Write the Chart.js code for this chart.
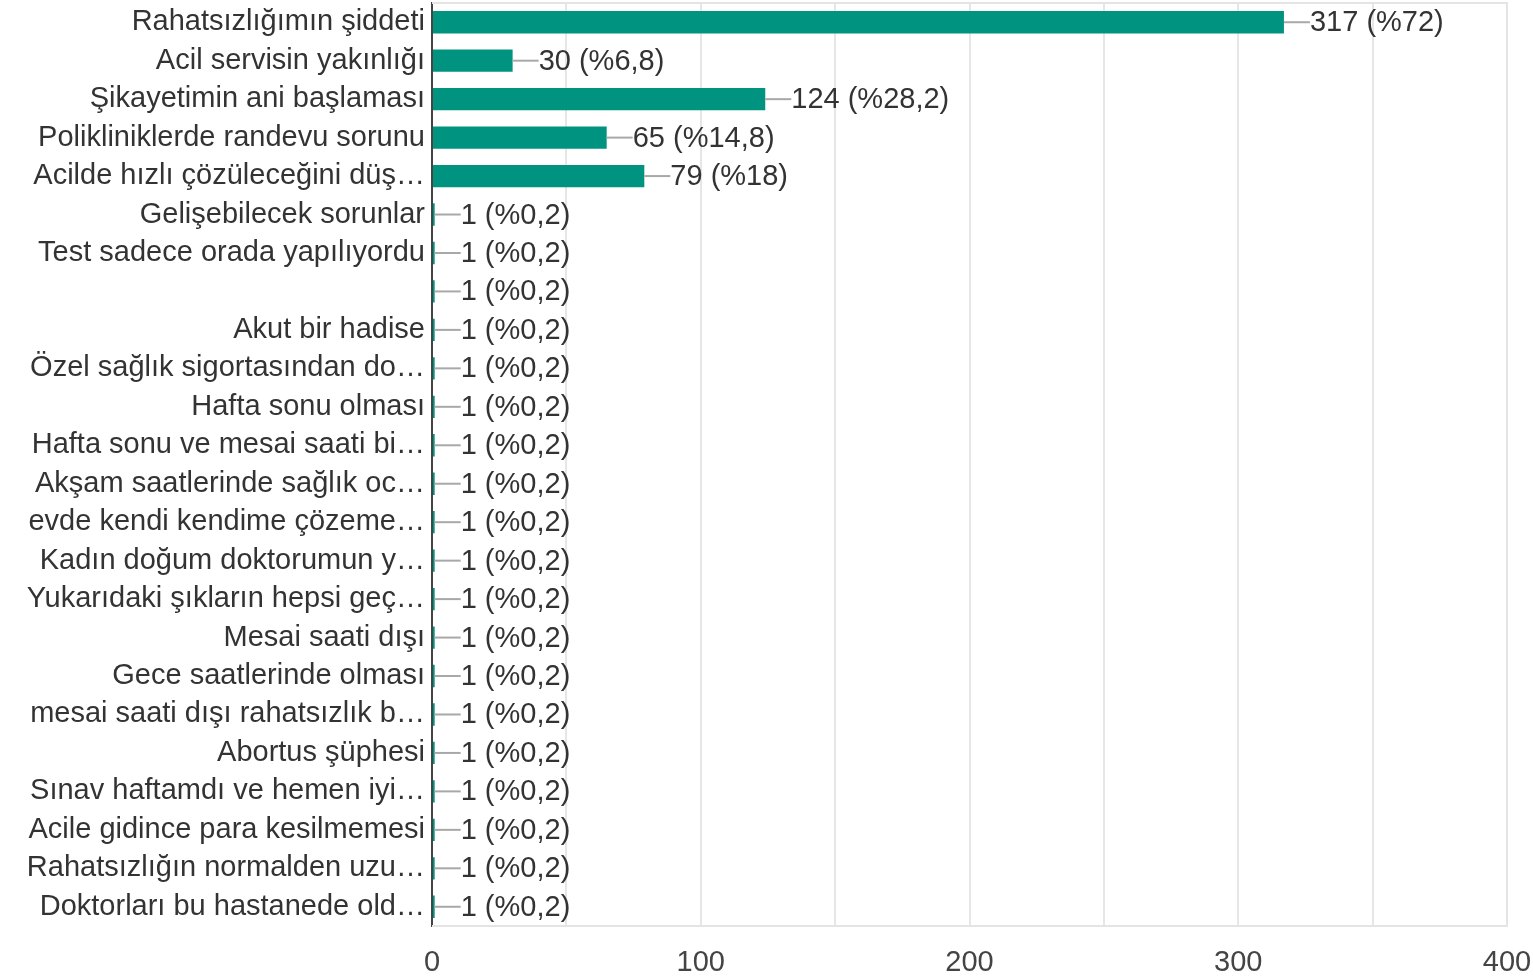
<!DOCTYPE html>
<html>
<head>
<meta charset="utf-8">
<script src="https://cdn.jsdelivr.net/npm/chart.js@4/dist/chart.umd.min.js"></script>
<style>
  html, body { margin: 0; padding: 0; background: #fff; }
  #wrap { width: 1533px; height: 978px; }
</style>
</head>
<body>
<div id="wrap"><canvas id="c" width="1533" height="978"></canvas></div>
<script>
// Survey answers: reason for choosing the emergency department
const categories = [
  "Rahatsızlığımın şiddeti",
  "Acil servisin yakınlığı",
  "Şikayetimin ani başlaması",
  "Polikliniklerde randevu sorunu",
  "Acilde hızlı çözüleceğini düş…",
  "Gelişebilecek sorunlar",
  "Test sadece orada yapılıyordu",
  "",
  "Akut bir hadise",
  "Özel sağlık sigortasından do…",
  "Hafta sonu olması",
  "Hafta sonu ve mesai saati bi…",
  "Akşam saatlerinde sağlık oc…",
  "evde kendi kendime çözeme…",
  "Kadın doğum doktorumun y…",
  "Yukarıdaki şıkların hepsi geç…",
  "Mesai saati dışı",
  "Gece saatlerinde olması",
  "mesai saati dışı rahatsızlık b…",
  "Abortus şüphesi",
  "Sınav haftamdı ve hemen iyi…",
  "Acile gidince para kesilmemesi",
  "Rahatsızlığın normalden uzu…",
  "Doktorları bu hastanede old…"
];
const counts = [317, 30, 124, 65, 79, 1, 1, 1, 1, 1, 1, 1, 1, 1, 1, 1, 1, 1, 1, 1, 1, 1, 1, 1];
const percents = ["72", "6,8", "28,2", "14,8", "18", "0,2", "0,2", "0,2", "0,2", "0,2", "0,2", "0,2",
  "0,2", "0,2", "0,2", "0,2", "0,2", "0,2", "0,2", "0,2", "0,2", "0,2", "0,2", "0,2"];
const xTickLabels = [0, 100, 200, 300, 400];

const FONT = "'Liberation Sans', Arial, Helvetica, sans-serif";
const FONT_SIZE = 29;

// Light frame around the plotting area
const frame = {
  id: 'frame',
  beforeDatasetsDraw(chart) {
    const { ctx, chartArea: a } = chart;
    ctx.save();
    ctx.strokeStyle = '#e4e4e4';
    ctx.lineWidth = 2;
    ctx.beginPath();
    ctx.moveTo(a.left, a.top); ctx.lineTo(a.right, a.top);
    ctx.lineTo(a.right, a.bottom); ctx.lineTo(a.left, a.bottom);
    ctx.stroke();
    ctx.restore();
  }
};

// Leader line + "count (%share)" after each bar
const valueLabels = {
  id: 'valueLabels',
  afterDatasetsDraw(chart) {
    const { ctx } = chart;
    const meta = chart.getDatasetMeta(0);
    ctx.save();
    ctx.font = FONT_SIZE + 'px ' + FONT;
    ctx.textBaseline = 'middle';
    ctx.textAlign = 'left';
    meta.data.forEach((bar, i) => {
      const x = bar.x, y = bar.y;
      ctx.strokeStyle = '#a8a8a8';
      ctx.lineWidth = 2;
      ctx.beginPath();
      ctx.moveTo(x, y);
      ctx.lineTo(x + 26, y);
      ctx.stroke();
      ctx.fillStyle = '#333333';
      ctx.fillText(counts[i] + ' (%' + percents[i] + ')', x + 26, y + 1);
    });
    ctx.restore();
  }
};

new Chart(document.getElementById('c'), {
  type: 'bar',
  data: {
    labels: categories,
    datasets: [{
      data: counts,
      backgroundColor: '#00937f',
      borderWidth: 0,
      barPercentage: 0.58,
      categoryPercentage: 1.0
    }]
  },
  options: {
    indexAxis: 'y',
    responsive: false,
    animation: false,
    devicePixelRatio: 1,
    layout: { padding: { top: 3, right: 26, bottom: 0, left: 0 } },
    plugins: { legend: { display: false }, tooltip: { enabled: false } },
    scales: {
      x: {
        min: 0,
        max: 400,
        afterFit(scale) {
          scale.height = 52;
          scale.paddingLeft = 0;
          scale.paddingRight = 0;
        },
        afterBuildTicks(scale) {
          scale.ticks = [];
          for (let v = 0; v <= 400; v += 50) scale.ticks.push({ value: v });
        },
        grid: { color: '#e6e6e6', lineWidth: 2, drawTicks: false },
        border: { display: false },
        ticks: {
          autoSkip: false,
          maxRotation: 0,
          padding: 20,
          color: '#444444',
          font: { family: FONT, size: FONT_SIZE },
          callback: (v) => xTickLabels.includes(v) ? String(v) : ''
        }
      },
      y: {
        afterFit(scale) {
          scale.width = 432;
          scale.paddingTop = 0;
          scale.paddingBottom = 0;
        },
        grid: { display: false, drawTicks: false, tickLength: 0 },
        border: { display: true, color: '#444444', width: 2 },
        ticks: {
          autoSkip: false,
          padding: 7,
          color: '#333333',
          font: { family: FONT, size: FONT_SIZE }
        }
      }
    }
  },
  plugins: [frame, valueLabels]
});
</script>
</body>
</html>
